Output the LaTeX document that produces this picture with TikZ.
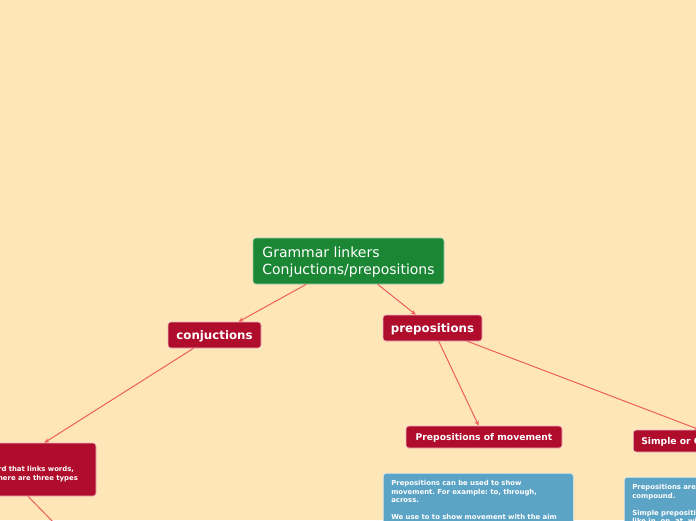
\documentclass[tikz,border=0pt]{standalone}
\usepackage{fontspec}
\setmainfont{DejaVu Sans}
\usetikzlibrary{arrows.meta, positioning}
\definecolor{mapbg}{HTML}{FFE6B9}
\definecolor{rootgreen}{HTML}{1B8735}
\definecolor{topicred}{HTML}{B00C2C}
\definecolor{noteblue}{HTML}{5CA4C6}
\definecolor{linkred}{HTML}{EE5F5B}
\frenchspacing

\begin{document}
\begin{tikzpicture}[
    x=1pt, y=-1pt,
    every node/.style={text=white, inner sep=0pt},
    root/.style={draw=white!60!rootgreen, fill=rootgreen, rounded corners=3pt,
                 line width=0.6pt, align=left, text depth=0pt,
                 font=\fontsize{14}{17}\selectfont},
    topic/.style={draw=white!70!topicred, fill=topicred, rounded corners=3pt,
                  line width=0.6pt, text depth=0pt,
                  font=\fontsize{11.8}{14}\selectfont\bfseries},
    subtopic/.style={topic, font=\fontsize{9.2}{11}\selectfont\bfseries,
                     minimum height=22pt, inner xsep=8pt},
    note/.style={draw=white!70!noteblue, fill=noteblue, rounded corners=3pt,
                 line width=0.6pt, align=left, text width=174pt, inner xsep=8pt,
                 inner ysep=7pt, font=\fontsize{6.9}{8.5}\selectfont\bfseries},
    link/.style={draw=linkred, line width=1pt, -{Stealth[length=5pt, width=4.5pt]}}
]
    \useasboundingbox (0,0) rectangle (696,520);
    \clip (0,0) rectangle (696,520);
    \fill[mapbg] (0,0) rectangle (696,520);

    % Central topic
    \node[root, minimum width=191pt, minimum height=46pt] (grammar) at (348.5,261)
        {Grammar linkers\\Conjuctions/prepositions};

    % Main branches
    \node[topic, minimum width=93pt, minimum height=26pt] (conj) at (214.5,335) {conjuctions};
    \node[topic, minimum width=99pt, minimum height=26pt] (prep) at (432.5,328) {prepositions};

    % Conjunction definition
    \node[topic, align=left, text width=172pt, inner xsep=8pt, minimum height=53pt,
          text depth=, font=\fontsize{6.9}{8.5}\selectfont\bfseries] (conjdef) at (2,469.5)
        {\strut\\A conjunction is a word that links words,\\phrases or clauses. There are three types};
    \coordinate (conjtypes) at (90,560);

    % Preposition sub-branches
    \node[subtopic, minimum width=156pt] (movement) at (484,437) {Prepositions of movement};
    \node[subtopic, anchor=west] (simple) at (633,441) {Simple or Compound prepositions};

    % Notes
    \node[note, anchor=north west] (movenote) at (383,473)
        {Prepositions can be used to show\\movement. For example: to, through,\\across.\\[8.5pt]We use to to show movement with the aim\\of arriving at a place.};
    \node[note, anchor=north west] (simplenote) at (624,477)
        {Prepositions are either simple or\\compound.\\[8.5pt]Simple prepositions are single words,\\like in, on, at, with.};

    % Connectors
    \draw[link] (grammar) -- (conj);
    \draw[link] (grammar) -- (prep);
    \draw[link] (conj) -- (conjdef);
    \draw[link] (conjdef) -- (conjtypes);
    \draw[link] (prep) -- (movement);
    \draw[link] (prep) -- (simple);
\end{tikzpicture}
\end{document}
